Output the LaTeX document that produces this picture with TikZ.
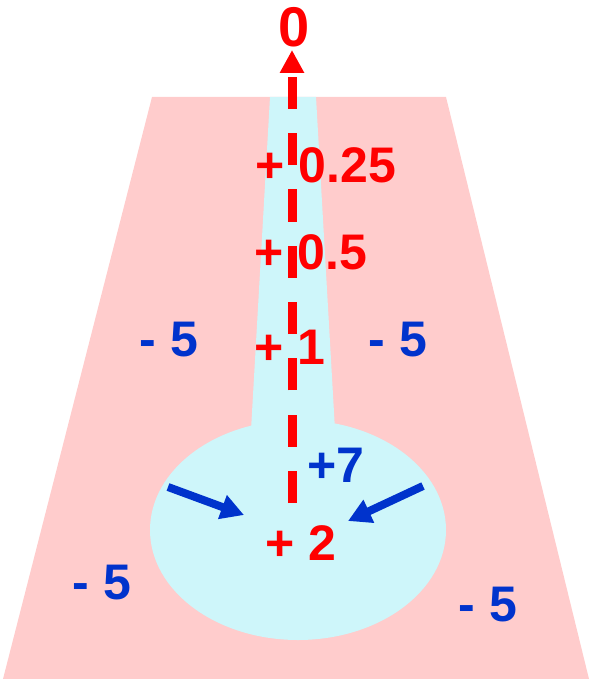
\documentclass[tikz,border=0pt]{standalone}
\usepackage{fontspec}
\setmainfont{Liberation Sans}
\usetikzlibrary{arrows.meta}
\definecolor{rosa}{RGB}{255,204,204}
\definecolor{celeste}{RGB}{206,246,250}
\definecolor{rojo}{RGB}{255,0,0}
\definecolor{azul}{RGB}{0,51,204}
\begin{document}
\begin{tikzpicture}[x=0.5pt, y=-0.5pt,
  font=\fontsize{25}{30}\selectfont\bfseries,
  etiq/.style={inner sep=0pt},
  roja/.style={etiq, text=rojo},
  azulada/.style={etiq, text=azul},
  eje/.style={rojo, line width=4.5pt, dash pattern=on 16pt off 12.15pt,
    -{Triangle[length=11.5pt, width=11.5pt]}},
  flecha/.style={azul, line width=4pt, -{Triangle[length=11.5pt, width=12pt]}}]
  \useasboundingbox (0,0) rectangle (589,679);
  % Fondo
  \fill[rosa] (152,97) -- (446,97) -- (589,679) -- (3,679) -- cycle;
  % Tallo y bulbo
  \fill[celeste] (270,97) -- (316,97) -- (335,430) -- (251,430) -- cycle;
  \fill[celeste] (298,530) ellipse (148 and 110);
  % Eje
  \node[roja, anchor=south, font=\fontsize{28}{32}\selectfont\bfseries]
    (cero) at (294,47) {0};
  \coordinate (base) at (292,503);
  \draw[eje] (base) -- ([yshift=-1.5pt]cero.south -| base);
  % Valores en el tallo
  \node[roja] (v025) at (326,165) {+ 0.25};
  \node[roja] (v05) at (311,252) {+ 0.5};
  \node[roja] (v1) at (290,347) {+ 1};
  \node[roja] (v2) at (301,543) {+ 2};
  \node[azulada] (v7) at (336,465) {+7};
  % Valores exteriores
  \node[azulada] (m5a) at (169,340) {- 5};
  \node[azulada] (m5b) at (398,340) {- 5};
  \node[azulada] (m5c) at (102,583) {- 5};
  \node[azulada] (m5d) at (488,605) {- 5};
  % Flechas
  \coordinate (colaIzq) at (168,487);
  \coordinate (puntaIzq) at (244,515);
  \coordinate (colaDer) at (423,486);
  \coordinate (puntaDer) at (348,521);
  \draw[flecha] (colaIzq) -- (puntaIzq);
  \draw[flecha] (colaDer) -- (puntaDer);
\end{tikzpicture}
\end{document}
